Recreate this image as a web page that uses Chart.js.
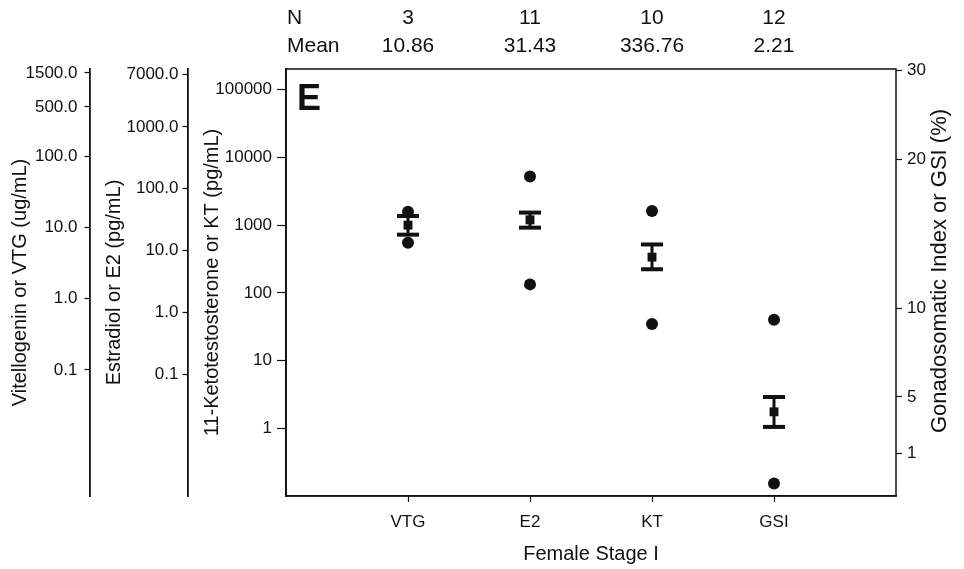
<!DOCTYPE html>
<html>
<head>
<meta charset="utf-8">
<script src="https://cdn.jsdelivr.net/npm/chart.js@4.4.0/dist/chart.umd.min.js"></script>
<style>
  html, body { margin: 0; padding: 0; background: #fff; }
  #wrap { width: 964px; height: 569px; position: relative; }
</style>
</head>
<body>
<div id="wrap"><canvas id="stageChart"></canvas></div>
<script>
// ====================
// Data
// ====================
const categories = ["VTG", "E2", "KT", "GSI"];
const sampleN = [3, 11, 10, 12];
const meanLabels = ["10.86", "31.43", "336.76", "2.21"];
const meanValues = [10.86, 31.43, 336.76, 3.27];
const errLow = [7.97, 23.5, 223, 2.13];
const errHigh = [14.6, 41.2, 518, 4.98];
const dotLow = [6.15, 2.84, 34.8, 0.427];
const dotHigh = [16.8, 158.5, 1611, 9.15];

const vtgTicks = [0.1, 1, 10, 100, 500, 1500];
const e2Ticks = [0.1, 1, 10, 100, 1000, 7000];
const ktTicks = [1, 10, 100, 1000, 10000, 100000];
const gsiTicks = [1, 5, 10, 20, 30];

const axisIds = ["yVTG", "yE2", "yKT", "yGSI"];
const FONT = '"Liberation Sans", Arial, Helvetica, sans-serif';
const INK = "#111";

// ====================
// GSI axis: its ticks are not evenly spaced in the original,
// so the scale interpolates (in log space) between fixed stops
// ====================
const GSI_STOPS = [[1, 0.0994], [5, 0.2322], [10, 0.4395], [20, 0.7889], [30, 0.996]];

function gsiDecimal(v) {
    const lv = Math.log10(v);
    const s = GSI_STOPS.map(p => [Math.log10(p[0]), p[1]]);
    let i = 0;
    if (lv >= s[s.length - 1][0]) i = s.length - 2;
    else while (i < s.length - 2 && lv > s[i + 1][0]) i++;
    const a = s[i], b = s[i + 1];
    return a[1] + (lv - a[0]) / (b[0] - a[0]) * (b[1] - a[1]);
}

class GsiScale extends Chart.LogarithmicScale {
    getPixelForValue(value) {
        if (value === null || value === undefined || isNaN(value)) return NaN;
        return this.getPixelForDecimal(gsiDecimal(value));
    }
    getValueForPixel(pixel) {
        const d = this.getDecimalForPixel(pixel);
        let lo = 0.01, hi = 100;
        for (let k = 0; k < 40; k++) {
            const mid = Math.sqrt(lo * hi);
            if (gsiDecimal(mid) < d) lo = mid; else hi = mid;
        }
        return lo;
    }
}
GsiScale.id = "gsiScale";
GsiScale.defaults = Chart.LogarithmicScale.defaults;
Chart.register(GsiScale);

// ====================
// Datasets: mean, error bar, two dots per category
// ====================
const datasets = [];
categories.forEach((c, i) => {
    datasets.push({
        label: c + " mean",
        yAxisID: axisIds[i],
        data: [{ x: i + 1, y: meanValues[i] }],
        pointStyle: "rect",
        pointRadius: 6.3,
        backgroundColor: INK,
        borderWidth: 0
    });
    datasets.push({
        label: c + " error",
        yAxisID: axisIds[i],
        data: [{ x: i + 1, y: errLow[i] }, { x: i + 1, y: errHigh[i] }],
        showLine: true,
        borderColor: INK,
        borderWidth: 3,
        pointStyle: "line",
        pointRadius: 11,
        pointBorderWidth: 4,
        pointBorderColor: INK
    });
    datasets.push({
        label: c + " points",
        yAxisID: axisIds[i],
        data: [{ x: i + 1, y: dotLow[i] }, { x: i + 1, y: dotHigh[i] }],
        pointStyle: "circle",
        pointRadius: 6,
        backgroundColor: INK,
        borderWidth: 0
    });
});

// ====================
// Axis helpers
// ====================
function leftLogAxis(opts) {
    return {
        type: "logarithmic",
        position: "left",
        weight: opts.weight,
        min: opts.min,
        max: opts.max,
        bounds: "data",
        afterBuildTicks: s => { s.ticks = opts.ticks.map(v => ({ value: v })); },
        afterFit: s => { s.width = opts.width; },
        grid: { drawOnChartArea: false, drawTicks: true, tickLength: opts.tickLength, tickColor: INK, tickWidth: 1.2 },
        border: { display: true, color: INK, width: 1.8 },
        ticks: {
            autoSkip: false,
            padding: opts.padding,
            color: INK,
            font: { family: FONT, size: 17 },
            callback: opts.format
        },
        title: {
            display: true,
            text: opts.title,
            color: INK,
            font: { family: FONT, size: 20 },
            padding: { top: opts.titlePad, bottom: 0 }
        }
    };
}

// ====================
// Frame + text plugin
// ====================
const decorPlugin = {
    id: "decor",
    beforeDatasetsDraw(chart) {
        const { ctx, chartArea: a } = chart;
        ctx.save();
        ctx.strokeStyle = INK;
        ctx.lineWidth = 1.5;
        ctx.strokeRect(a.left, a.top, a.right - a.left, a.bottom - a.top);
        ctx.restore();
    },
    afterDraw(chart) {
        const { ctx, chartArea: a } = chart;
        const xs = chart.scales.x;
        ctx.save();
        ctx.fillStyle = INK;
        ctx.font = "21px " + FONT;
        ctx.textBaseline = "alphabetic";
        ctx.textAlign = "left";
        ctx.fillText("N", a.left + 1, 24);
        ctx.fillText("Mean", a.left + 1, 52);
        ctx.textAlign = "center";
        categories.forEach((c, i) => {
            const x = xs.getPixelForValue(i + 1);
            ctx.fillText(String(sampleN[i]), x, 24);
            ctx.fillText(meanLabels[i], x, 52);
        });

        // panel letter
        ctx.textAlign = "left";
        ctx.font = "bold 36px " + FONT;
        ctx.fillText("E", a.left + 11, a.top + 41);

        // right axis title reads bottom-to-top like the left ones
        ctx.font = "22px " + FONT;
        ctx.translate(940, 271);
        ctx.rotate(-Math.PI / 2);
        ctx.textAlign = "center";
        ctx.textBaseline = "middle";
        ctx.fillText("Gonadosomatic Index or GSI (%)", 0, 0);
        ctx.restore();
    }
};

// ====================
// Chart
// ====================
new Chart(document.getElementById("stageChart"), {
    type: "scatter",
    data: { datasets },
    plugins: [decorPlugin],
    options: {
        responsive: true,
        maintainAspectRatio: false,
        animation: false,
        devicePixelRatio: 1,
        layout: { padding: { top: 69, right: 0, bottom: 0, left: 0 } },
        plugins: { legend: { display: false }, tooltip: { enabled: false } },
        scales: {
            x: {
                type: "linear",
                position: "bottom",
                min: 0,
                max: 5,
                afterBuildTicks: s => { s.ticks = categories.map((c, i) => ({ value: i + 1 })); },
                afterFit: s => { s.height = 73; },
                grid: { drawOnChartArea: false, drawTicks: true, tickLength: 6, tickColor: INK, tickWidth: 1.2 },
                border: { display: true, color: INK, width: 1.5 },
                ticks: {
                    autoSkip: false,
                    padding: 10,
                    color: INK,
                    font: { family: FONT, size: 17 },
                    callback: v => categories[v - 1]
                },
                title: {
                    display: true,
                    text: "Female Stage I",
                    color: INK,
                    font: { family: FONT, size: 20 },
                    padding: { top: 0, bottom: 3 }
                }
            },
            yVTG: leftLogAxis({
                weight: 3, min: 0.00168, max: 1707, ticks: vtgTicks, width: 89.5,
                tickLength: 5, padding: 7, titlePad: 8,
                title: "Vitellogenin or VTG (ug/mL)",
                format: v => Number(v).toFixed(1)
            }),
            yE2: leftLogAxis({
                weight: 2, min: 0.00107, max: 8670, ticks: e2Ticks, width: 98,
                tickLength: 5, padding: 4, titlePad: 12.5,
                title: "Estradiol or E2 (pg/mL)",
                format: v => Number(v).toFixed(1)
            }),
            yKT: leftLogAxis({
                weight: 1, min: 0.1, max: 202000, ticks: ktTicks, width: 98.5,
                tickLength: 9, padding: 5, titlePad: 13,
                title: "11-Ketotestosterone or KT (pg/mL)",
                format: v => String(v)
            }),
            yGSI: {
                type: "gsiScale",
                position: "right",
                min: 0.3,
                max: 30.3,
                bounds: "data",
                afterBuildTicks: s => { s.ticks = gsiTicks.map(v => ({ value: v })); },
                afterFit: s => { s.width = 68; },
                grid: { drawOnChartArea: false, drawTicks: true, tickLength: 6, tickColor: INK, tickWidth: 1.2 },
                border: { display: false },
                ticks: {
                    autoSkip: false,
                    padding: 5,
                    color: INK,
                    font: { family: FONT, size: 17 },
                    callback: v => String(v)
                },
                title: { display: false }
            }
        }
    }
});
</script>
</body>
</html>
